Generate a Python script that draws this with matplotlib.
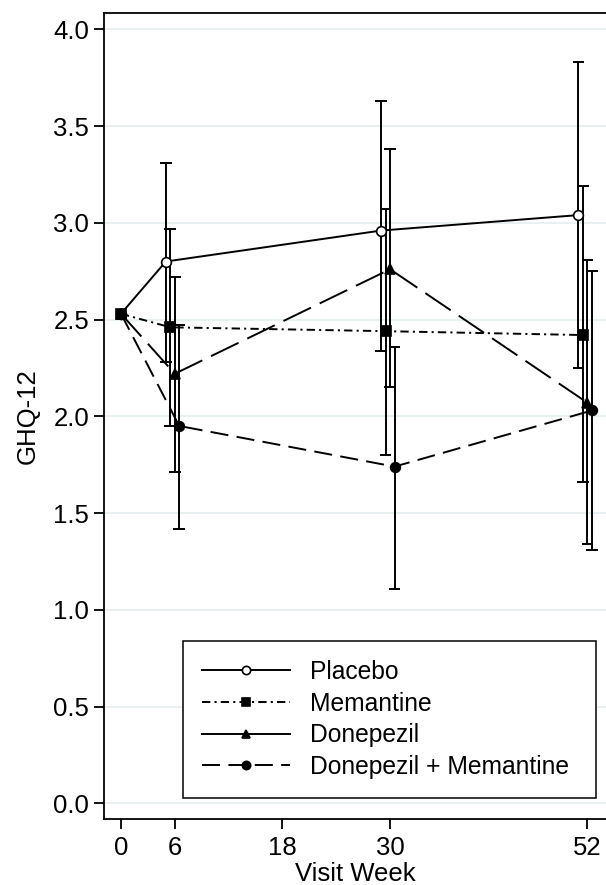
import matplotlib.pyplot as plt
from matplotlib.lines import Line2D

plt.rcParams['font.family'] = ['Liberation Sans', 'DejaVu Sans']
plt.rcParams['lines.scale_dashes'] = False

# GHQ-12 mean score with 95% CI by visit week
weeks = [0, 6, 30, 52]
x_ticks = [0, 6, 18, 30, 52]

placebo_mean = [2.53, 2.80, 2.96, 3.04]
placebo_lo = [2.28, 2.34, 2.25]
placebo_hi = [3.31, 3.63, 3.83]

memantine_mean = [2.53, 2.46, 2.44, 2.42]
memantine_lo = [1.95, 1.80, 1.66]
memantine_hi = [2.97, 3.07, 3.19]

donepezil_mean = [2.53, 2.22, 2.76, 2.07]
donepezil_lo = [1.71, 2.15, 1.34]
donepezil_hi = [2.72, 3.38, 2.81]

combo_mean = [2.53, 1.95, 1.74, 2.03]
combo_lo = [1.42, 1.11, 1.31]
combo_hi = [2.47, 2.36, 2.75]

labels = ['Placebo', 'Memantine', 'Donepezil', 'Donepezil + Memantine']
y_ticks = [0.0, 0.5, 1.0, 1.5, 2.0, 2.5, 3.0, 3.5, 4.0]

series = [
    (placebo_mean, placebo_lo, placebo_hi),
    (memantine_mean, memantine_lo, memantine_hi),
    (donepezil_mean, donepezil_lo, donepezil_hi),
    (combo_mean, combo_lo, combo_hi),
]

# horizontal dodge so the CIs don't sit on top of each other
dodge = [-1.0, -0.5, 0.0, 0.5]
styles = [
    dict(ls='-', marker='o', mfc='white', ms=7),
    dict(ls=(0, (6, 3, 1.5, 3)), marker='s', mfc='black', ms=6.5),
    dict(ls=(0, (22, 7)), marker='^', mfc='black', ms=7.5),
    dict(ls=(0, (13, 6)), marker='o', mfc='black', ms=7),
]

fig = plt.figure(figsize=(6.06, 8.85), dpi=100)
ax = fig.add_axes([0.1721, 0.0742, 0.8279, 0.9108])

for (mean, lo, hi), dx, st in zip(series, dodge, styles):
    xs = [w + dx if w > 0 else w for w in weeks]
    ax.vlines(xs[1:], lo, hi, color='black', lw=1.4, zorder=2)
    ax.hlines(lo + hi, [x - 0.65 for x in xs[1:]] * 2, [x + 0.65 for x in xs[1:]] * 2,
              color='black', lw=1.4, zorder=2)
    ax.plot(xs, mean, color='black', lw=1.4, ls=st['ls'], marker=st['marker'],
            mfc=st['mfc'], mec='black', mew=1.2, ms=st['ms'], zorder=3)

ax.set_xlim(-1.86, 54.07)
ax.set_ylim(-0.083, 4.083)
ax.set_xticks(x_ticks)
ax.set_yticks(y_ticks)
ax.set_yticklabels([f'{v:.1f}' for v in y_ticks])
ax.grid(axis='y', color='#e6eff1', lw=1.3, zorder=0)
ax.set_axisbelow(True)

for side in ['left', 'bottom', 'top']:
    ax.spines[side].set_linewidth(1.3)
ax.spines['right'].set_visible(False)
ax.tick_params(direction='out', length=7, width=1.3, labelsize=18.5, pad=4)
ax.tick_params(axis='x', pad=5)

ax.set_xlabel('Visit Week', fontsize=18.5, labelpad=1.5)
ax.set_ylabel('GHQ-12', fontsize=18.5, labelpad=10)

handles = []
for st in styles:
    handles.append(Line2D([], [], color='black', lw=1.4, ls=st['ls'],
                          marker=st['marker'], mfc=st['mfc'], mec='black',
                          mew=1.2, ms=st['ms'] * 0.85))
handles[2].set_linestyle('-')

leg = ax.legend(handles, labels, loc='lower left',
                bbox_to_anchor=(0.156, 0.0264, 0.824, 0.2), mode='expand',
                fontsize=17.7, handlelength=3.6, handletextpad=0.8,
                labelspacing=0.31, borderpad=0.78, fancybox=False,
                framealpha=1, edgecolor='black', borderaxespad=0)
leg.get_frame().set_linewidth(1.1)

fig.savefig('out.png', dpi=100)
